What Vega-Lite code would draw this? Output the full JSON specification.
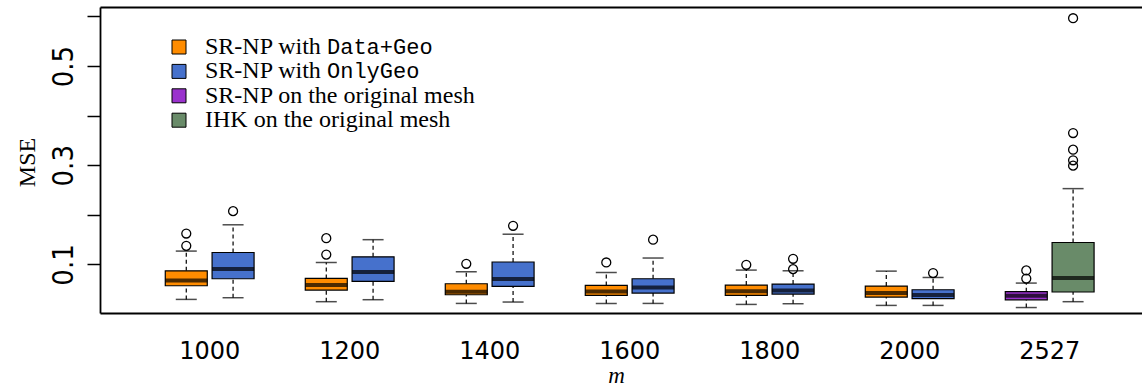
{
  "$schema": "https://vega.github.io/schema/vega-lite/v6.json",
  "width": 1042,
  "height": 306,
  "autosize": {"type": "none"},
  "padding": {"left": 100, "top": 7, "right": 0, "bottom": 75},
  "background": "white",
  "config": {"view": {"stroke": null}, "axis": {"grid": false}},
  "datasets": {
    "stats": [
      {"m": "1000", "method": "SR-NP with Data+Geo", "lo": 0.0296, "q1": 0.0571, "median": 0.0678, "q3": 0.0873, "hi": 0.127},
      {"m": "1000", "method": "SR-NP with OnlyGeo", "lo": 0.033, "q1": 0.0712, "median": 0.0907, "q3": 0.1241, "hi": 0.180},
      {"m": "1200", "method": "SR-NP with Data+Geo", "lo": 0.025, "q1": 0.0485, "median": 0.0585, "q3": 0.0718, "hi": 0.104},
      {"m": "1200", "method": "SR-NP with OnlyGeo", "lo": 0.029, "q1": 0.0658, "median": 0.0847, "q3": 0.1155, "hi": 0.150},
      {"m": "1400", "method": "SR-NP with Data+Geo", "lo": 0.0215, "q1": 0.039, "median": 0.045, "q3": 0.0612, "hi": 0.0853},
      {"m": "1400", "method": "SR-NP with OnlyGeo", "lo": 0.0243, "q1": 0.0557, "median": 0.0706, "q3": 0.105, "hi": 0.161},
      {"m": "1600", "method": "SR-NP with Data+Geo", "lo": 0.0215, "q1": 0.0376, "median": 0.0457, "q3": 0.0577, "hi": 0.0839},
      {"m": "1600", "method": "SR-NP with OnlyGeo", "lo": 0.0215, "q1": 0.0424, "median": 0.0537, "q3": 0.0712, "hi": 0.113},
      {"m": "1800", "method": "SR-NP with Data+Geo", "lo": 0.0195, "q1": 0.0376, "median": 0.046, "q3": 0.0585, "hi": 0.0887},
      {"m": "1800", "method": "SR-NP with OnlyGeo", "lo": 0.0209, "q1": 0.0404, "median": 0.0477, "q3": 0.0606, "hi": 0.0873},
      {"m": "2000", "method": "SR-NP with Data+Geo", "lo": 0.0175, "q1": 0.0344, "median": 0.0424, "q3": 0.0565, "hi": 0.0866},
      {"m": "2000", "method": "SR-NP with OnlyGeo", "lo": 0.0175, "q1": 0.031, "median": 0.0384, "q3": 0.0491, "hi": 0.0738},
      {"m": "2527", "method": "SR-NP on the original mesh", "lo": 0.0132, "q1": 0.0287, "median": 0.037, "q3": 0.0452, "hi": 0.0625},
      {"m": "2527", "method": "IHK on the original mesh", "lo": 0.025, "q1": 0.0445, "median": 0.0726, "q3": 0.1443, "hi": 0.2529}
    ],
    "outliers": [
      {"m": "1000", "method": "SR-NP with Data+Geo", "value": 0.1376},
      {"m": "1000", "method": "SR-NP with Data+Geo", "value": 0.1624},
      {"m": "1000", "method": "SR-NP with OnlyGeo", "value": 0.2075},
      {"m": "1200", "method": "SR-NP with Data+Geo", "value": 0.120},
      {"m": "1200", "method": "SR-NP with Data+Geo", "value": 0.153},
      {"m": "1400", "method": "SR-NP with Data+Geo", "value": 0.1014},
      {"m": "1400", "method": "SR-NP with OnlyGeo", "value": 0.178},
      {"m": "1600", "method": "SR-NP with Data+Geo", "value": 0.104},
      {"m": "1600", "method": "SR-NP with OnlyGeo", "value": 0.150},
      {"m": "1800", "method": "SR-NP with Data+Geo", "value": 0.0994},
      {"m": "1800", "method": "SR-NP with OnlyGeo", "value": 0.0907},
      {"m": "1800", "method": "SR-NP with OnlyGeo", "value": 0.1115},
      {"m": "2000", "method": "SR-NP with OnlyGeo", "value": 0.0827},
      {"m": "2527", "method": "SR-NP on the original mesh", "value": 0.0716},
      {"m": "2527", "method": "SR-NP on the original mesh", "value": 0.088},
      {"m": "2527", "method": "IHK on the original mesh", "value": 0.2992},
      {"m": "2527", "method": "IHK on the original mesh", "value": 0.310},
      {"m": "2527", "method": "IHK on the original mesh", "value": 0.3314},
      {"m": "2527", "method": "IHK on the original mesh", "value": 0.365},
      {"m": "2527", "method": "IHK on the original mesh", "value": 0.5964}
    ]
  },
  "data": {"name": "stats"},
  "transform": [
    {"calculate": "(datum.method == 'SR-NP with OnlyGeo' || datum.method == 'IHK on the original mesh') ? 'R' : 'L'", "as": "slot"}
  ],
  "encoding": {
    "x": {"field": "m", "type": "ordinal", "scale": {"type": "band", "paddingInner": 0, "paddingOuter": 0.2214, "align": 0.64}, "axis": null},
    "xOffset": {"field": "slot", "type": "nominal", "scale": {"domain": ["L", "R"], "paddingInner": 0.1026, "paddingOuter": 0.547}}
  },
  "layer": [
    {
      "mark": {"type": "rule", "color": "black", "strokeWidth": 1.2, "strokeDash": [4, 3]},
      "encoding": {
        "y": {"field": "q3", "type": "quantitative", "scale": {"domain": [0.0022, 0.619], "nice": false, "zero": false},
          "axis": {"title": "MSE", "values": [0.1, 0.2, 0.3, 0.4, 0.5, 0.6],
            "labelExpr": "(datum.value == 0.1 || datum.value == 0.3 || datum.value == 0.5) ? datum.label : ''",
            "labelFont": "Liberation Sans Narrow, DejaVu Sans Condensed", "labelFontSize": 29, "labelColor": "black",
            "labelAngle": 270, "labelAlign": "center", "labelBaseline": "alphabetic", "labelPadding": 14.7,
            "labelOverlap": false, "labelFlush": false,
            "tickSize": 13, "tickWidth": 1.5, "tickColor": "black",
            "domain": true, "domainColor": "black", "domainWidth": 1.8,
            "titleFont": "Liberation Serif", "titleFontSize": 24, "titleFontWeight": "normal", "titleColor": "black",
            "titleAngle": 270, "titleAlign": "center", "titleBaseline": "alphabetic", "titleX": -66, "titleY": 155}},
        "y2": {"field": "hi"}
      }
    },
    {
      "mark": {"type": "rule", "color": "black", "strokeWidth": 1.2, "strokeDash": [4, 3]},
      "encoding": {
        "y": {"field": "lo", "type": "quantitative"},
        "y2": {"field": "q1"}
      }
    },
    {
      "mark": {"type": "bar", "stroke": "black", "strokeWidth": 1.2},
      "encoding": {
        "x": {"field": "m", "type": "ordinal",
          "axis": {"orient": "bottom", "title": "m", "ticks": false, "domain": true, "domainColor": "black", "domainWidth": 1.8,
            "labelFont": "DejaVu Sans", "labelFontSize": 24, "labelColor": "black", "labelAngle": 0, "labelPadding": 26.5, "labelBaseline": "top",
            "titleFont": "Liberation Serif", "titleFontStyle": "italic", "titleFontWeight": "normal", "titleFontSize": 23, "titleColor": "black",
            "titleX": 516, "titleY": 69, "titleAlign": "center", "titleBaseline": "alphabetic"}},
        "y": {"field": "q1", "type": "quantitative"},
        "y2": {"field": "q3"},
        "fill": {"field": "method", "type": "nominal",
          "scale": {"domain": ["SR-NP with Data+Geo", "SR-NP with OnlyGeo", "SR-NP on the original mesh", "IHK on the original mesh"],
            "range": ["#FF8C00", "#4671CC", "#9A32CD", "#698B69"]},
          "legend": {"orient": "none", "legendX": 67, "legendY": 28, "title": null, "padding": 0,
            "symbolType": "square", "symbolSize": 196, "symbolStrokeColor": "black", "symbolStrokeWidth": 1, "symbolOpacity": 1,
            "labelFont": "Liberation Serif", "labelFontSize": 24, "labelColor": "black", "labelLimit": 600, "labelOffset": 14,
            "rowPadding": 0.4,
            "labelExpr": "indexof(datum.label, ' with ') > 0 ? 'SR-NP with' : datum.label"}}
      }
    },
    {
      "mark": {"type": "tick", "color": "black", "size": 42, "thickness": 4},
      "encoding": {
        "x": {"field": "m", "type": "ordinal",
          "axis": {"orient": "top", "title": null, "labels": false, "ticks": false, "domain": true, "domainColor": "black", "domainWidth": 1.8}},
        "y": {"field": "median", "type": "quantitative"}
      }
    },
    {
      "mark": {"type": "tick", "color": "black", "size": 21, "thickness": 1.5},
      "encoding": {"y": {"field": "hi", "type": "quantitative"}}
    },
    {
      "mark": {"type": "tick", "color": "black", "size": 21, "thickness": 1.5},
      "encoding": {"y": {"field": "lo", "type": "quantitative"}}
    },
    {
      "data": {"name": "outliers"},
      "transform": [
        {"calculate": "(datum.method == 'SR-NP with OnlyGeo' || datum.method == 'IHK on the original mesh') ? 'R' : 'L'", "as": "slot"}
      ],
      "mark": {"type": "point", "shape": "circle", "filled": false, "stroke": "black", "strokeWidth": 1.3, "size": 80, "opacity": 1},
      "encoding": {"y": {"field": "value", "type": "quantitative"}}
    },
    {
      "transform": [
        {"calculate": "indexof(datum.method, 'Data+Geo') >= 0 ? 'Data+Geo' : (indexof(datum.method, 'OnlyGeo') >= 0 ? 'OnlyGeo' : '')", "as": "variant"},
        {"filter": "datum.variant != ''"}
      ],
      "mark": {"type": "point", "opacity": 0},
      "encoding": {
        "y": {"field": "median", "type": "quantitative"},
        "shape": {"field": "variant", "type": "nominal", "scale": {"domain": ["Data+Geo", "OnlyGeo"], "range": ["circle", "circle"]},
          "legend": {"orient": "none", "legendX": 205, "legendY": 28.5, "title": null, "padding": 0,
            "symbolSize": 0, "symbolOpacity": 0, "symbolStrokeWidth": 0,
            "labelFont": "Liberation Mono", "labelFontSize": 22, "labelColor": "black", "labelLimit": 600, "labelOffset": 0,
            "rowPadding": 2.4}}
      }
    }
  ],
  "resolve": {"axis": {"x": "independent"}}
}
